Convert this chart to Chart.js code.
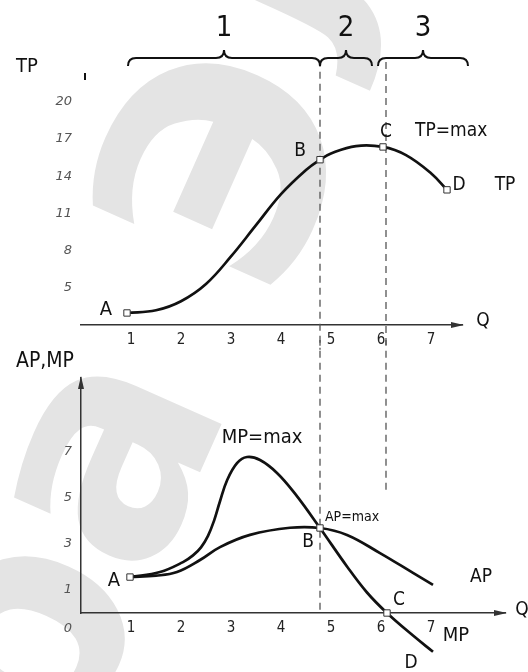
<!DOCTYPE html>
<html>
<head>
<meta charset="utf-8">
<script src="https://cdn.jsdelivr.net/npm/chart.js@4.4.1/dist/chart.umd.min.js"></script>
<style>
  html, body { margin: 0; padding: 0; background: #fff; }
  #wrap { position: relative; width: 528px; height: 672px; overflow: hidden; }
  #wrap canvas { position: absolute; left: 0; }
  #wm { top: 0; }
  #tpChart { top: 0; }
  #apmpChart { top: 340px; }
</style>
</head>
<body>
<div id="wrap">
  <canvas id="wm" width="528" height="672"></canvas>
  <canvas id="tpChart" width="528" height="350"></canvas>
  <canvas id="apmpChart" width="528" height="332"></canvas>
</div>
<script>
// quantity axis
const qTicks = [1, 2, 3, 4, 5, 6, 7];

// total product
const tpQ = [0.92, 1.5, 2.0, 2.5, 3.0, 3.5, 4.0, 4.5, 4.78, 5.0, 5.5, 6.04, 6.5, 7.0, 7.32];
const tpValues = [2.97, 3.19, 3.92, 5.31, 7.53, 10.05, 12.55, 14.5, 15.33, 15.83, 16.43, 16.36, 15.7, 14.24, 12.9];
const tpTicks = [5, 8, 11, 14, 17, 20];
const tpMarks = [0, 8, 11, 14];           // A, B, C, D

// marginal product
const mpQ = [0.98, 1.58, 2.04, 2.24, 2.4, 2.54, 2.66, 2.78, 2.92, 3.12, 3.32, 3.58, 3.92, 4.28, 4.78, 5.32, 5.72, 6.12, 6.64, 7.04];
const mpValues = [1.56, 1.78, 2.21, 2.5, 2.85, 3.35, 4.0, 4.85, 5.75, 6.5, 6.77, 6.64, 6.08, 5.18, 3.69, 2.02, 0.89, 0, -0.98, -1.68];
const mpMarks = [0, 14, 17, 19];          // A, B, C, D
const mpPeak = 10;

// average product
const apQ = [0.98, 1.5, 1.92, 2.38, 2.78, 3.38, 4.18, 4.78, 5.32, 5.98, 6.64, 7.04];
const apValues = [1.56, 1.62, 1.78, 2.3, 2.86, 3.39, 3.7, 3.69, 3.39, 2.6, 1.74, 1.22];
const apmpTicks = [1, 3, 5, 7];

// stages of production
const stageNames = ['1', '2', '3'];
const stageFrom = [0.94, 4.78, 5.94];
const stageTo = [4.78, 5.82, 7.74];
const stageBounds = [4.78, 6.1];

const ink = '#111';
const textFont = '"DejaVu Sans Condensed", "DejaVu Sans", sans-serif';
const pts = (xs, ys) => xs.map((x, i) => ({ x, y: ys[i] }));

function put(ctx, text, x, y, size, align, style) {
  ctx.font = (style ? style + ' ' : '') + size + 'px ' + textFont;
  ctx.textAlign = align || 'center';
  ctx.textBaseline = 'middle';
  ctx.fillStyle = ink;
  ctx.fillText(text, x, y);
}

function brace(ctx, x1, x2, y, h) {
  const xm = (x1 + x2) / 2;
  ctx.beginPath();
  ctx.moveTo(x1, y + h);
  ctx.quadraticCurveTo(x1, y, x1 + h, y);
  ctx.lineTo(xm - h, y);
  ctx.quadraticCurveTo(xm, y, xm, y - h);
  ctx.quadraticCurveTo(xm, y, xm + h, y);
  ctx.lineTo(x2 - h, y);
  ctx.quadraticCurveTo(x2, y, x2, y + h);
  ctx.stroke();
}

function arrow(ctx, x, y, dir) {
  ctx.beginPath();
  if (dir === 'right') {
    ctx.moveTo(x + 2, y); ctx.lineTo(x - 11, y - 3); ctx.lineTo(x - 11, y + 3);
  } else {
    ctx.moveTo(x, y - 2); ctx.lineTo(x - 3, y + 11); ctx.lineTo(x + 3, y + 11);
  }
  ctx.closePath();
  ctx.fillStyle = '#333';
  ctx.fill();
}

function curve(data, marks) {
  return {
    data,
    borderColor: ink,
    borderWidth: 2.7,
    tension: 0.4,
    clip: false,
    pointStyle: 'rect',
    pointRadius: c => marks.includes(c.dataIndex) ? 4.5 : 0,
    pointBackgroundColor: '#fff',
    pointBorderColor: '#333',
    pointBorderWidth: 1
  };
}

function guide(q, yTop, yBottom) {
  return {
    data: [{ x: q, y: yTop }, { x: q, y: yBottom }],
    borderColor: '#555',
    borderWidth: 1.3,
    borderDash: [7, 5],
    pointRadius: 0,
    clip: false
  };
}

const axisTicks = {
  color: '#222',
  padding: 6,
  font: { family: textFont, size: 15 }
};
const valueTicks = {
  color: '#555',
  padding: 9,
  font: { family: '"DejaVu Sans"', size: 13, style: 'italic' }
};

// faint background lettering
(function () {
  const c = document.getElementById('wm').getContext('2d');
  const size = 300;
  c.font = 'bold ' + size + 'px "DejaVu Sans"';
  c.fillStyle = '#e4e4e4';
  c.translate(116, 462);
  c.rotate(-66 * Math.PI / 180);
  const pre = c.measureText('р').width;
  const aw = c.measureText('а').width;
  c.textBaseline = 'alphabetic';
  c.fillText('ра Эл', -(pre + aw / 2), 0.27 * size);
})();

// upper panel: total product
new Chart(document.getElementById('tpChart'), {
  type: 'line',
  data: {
    datasets: [
      curve(pts(tpQ, tpValues), tpMarks),
      guide(stageBounds[0], 23.4, 0),
      guide(stageBounds[1], 23.2, 0)
    ]
  },
  options: {
    responsive: false,
    animation: false,
    layout: { padding: { top: 77, right: 66, bottom: 0, left: 0 } },
    plugins: { legend: { display: false }, tooltip: { enabled: false } },
    scales: {
      x: {
        type: 'linear', min: 0, max: 7.62,
        grid: { display: false, drawTicks: false },
        border: { color: '#333', width: 1.5 },
        ticks: axisTicks,
        afterBuildTicks: a => { a.ticks = qTicks.map(v => ({ value: v })); },
        afterFit: a => { a.height = 25; }
      },
      y: {
        type: 'linear', min: 2, max: 22,
        grid: { display: false, drawTicks: false },
        border: { display: false },
        ticks: valueTicks,
        afterBuildTicks: a => { a.ticks = tpTicks.map(v => ({ value: v })); },
        afterFit: a => { a.width = 81; }
      }
    }
  },
  plugins: [{
    id: 'tpNotes',
    afterDraw(chart) {
      const { ctx, chartArea: area, scales: { x } } = chart;
      const m = chart.getDatasetMeta(0).data;
      ctx.save();
      ctx.strokeStyle = ink;
      ctx.lineWidth = 2;
      stageNames.forEach((name, i) => {
        const x1 = x.getPixelForValue(stageFrom[i]);
        const x2 = x.getPixelForValue(stageTo[i]);
        brace(ctx, x1, x2, 58, 8);
        put(ctx, name, (x1 + x2) / 2, 28, 29);
      });
      arrow(ctx, area.right, area.bottom, 'right');
      ctx.beginPath();
      ctx.moveTo(area.left + 4, area.top - 4);
      ctx.lineTo(area.left + 4, area.top + 3);
      ctx.stroke();
      put(ctx, 'TP', 27, 67, 20);
      put(ctx, 'Q', area.right + 21, area.bottom - 4, 19);
      const at = (i, t, dx, dy, size, align) => put(ctx, t, m[i].x + dx, m[i].y + dy, size, align);
      at(tpMarks[0], 'A', -21, -3, 20);
      at(tpMarks[1], 'B', -20, -9, 19);
      at(tpMarks[2], 'C', 3, -15, 19);
      at(tpMarks[2], 'TP=max', 32, -16, 19, 'left');
      at(tpMarks[3], 'D', 12, -5, 19);
      at(tpMarks[3], 'TP', 58, -5, 19);
      ctx.restore();
    }
  }]
});

// lower panel: average and marginal product
new Chart(document.getElementById('apmpChart'), {
  type: 'line',
  data: {
    datasets: [
      curve(pts(mpQ, mpValues), mpMarks),
      curve(pts(apQ, apValues), []),
      guide(stageBounds[0], 11.9, 0),
      guide(stageBounds[1], 11.9, 5.13)
    ]
  },
  options: {
    responsive: false,
    animation: false,
    layout: { padding: { top: 38, right: 23, bottom: 34, left: 0 } },
    plugins: { legend: { display: false }, tooltip: { enabled: false } },
    scales: {
      x: {
        type: 'linear', min: 0, max: 8.48,
        grid: { display: false, drawTicks: false },
        border: { color: '#333', width: 1.5 },
        ticks: axisTicks,
        afterBuildTicks: a => { a.ticks = qTicks.map(v => ({ value: v })); },
        afterFit: a => { a.height = 25; }
      },
      y: {
        type: 'linear', min: 0, max: 10.2,
        grid: { display: false, drawTicks: false },
        border: { color: '#333', width: 1.5 },
        ticks: valueTicks,
        afterBuildTicks: a => { a.ticks = apmpTicks.map(v => ({ value: v })); },
        afterFit: a => { a.width = 81; }
      }
    }
  },
  plugins: [{
    id: 'apmpNotes',
    afterDraw(chart) {
      const { ctx, chartArea: area } = chart;
      const mp = chart.getDatasetMeta(0).data;
      const ap = chart.getDatasetMeta(1).data;
      ctx.save();
      arrow(ctx, area.right, area.bottom, 'right');
      arrow(ctx, area.left, area.top, 'up');
      put(ctx, 'AP,MP', 45, 22, 21);
      put(ctx, 'Q', area.right + 17, area.bottom - 3, 19, 'center');
      ctx.fillStyle = '#555';
      ctx.font = 'italic 13px "DejaVu Sans"';
      ctx.textAlign = 'center';
      ctx.fillText('0', area.left - 13, area.bottom + 16);
      const at = (m, i, t, dx, dy, size, align) => put(ctx, t, m[i].x + dx, m[i].y + dy, size, align);
      at(mp, mpMarks[0], 'A', -16, 4, 20);
      at(mp, mpPeak, 'MP=max', 15, -19, 20);
      at(mp, mpMarks[1], 'B', -12, 14, 19);
      at(mp, mpMarks[1], 'AP=max', 5, -11, 14, 'left');
      at(ap, ap.length - 1, 'AP', 48, -8, 19);
      at(mp, mpMarks[2], 'C', 12, -13, 19);
      at(mp, mpMarks[3], 'MP', 23, -16, 20);
      at(mp, mpMarks[3], 'D', -22, 11, 19);
      ctx.restore();
    }
  }]
});
</script>
</body>
</html>
